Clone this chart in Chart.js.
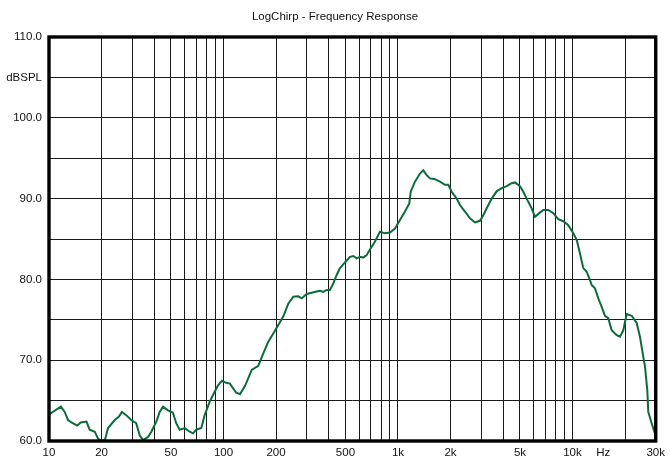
<!DOCTYPE html>
<html>
<head>
<meta charset="utf-8">
<script src="https://cdn.jsdelivr.net/npm/chart.js@4/dist/chart.umd.min.js"></script>
<style>
html,body{margin:0;padding:0;background:#fff;}
#wrap{width:670px;height:461px;}
</style>
</head>
<body>
<div id="wrap"><canvas id="c" width="670" height="461"></canvas></div>
<script>
const chartTitle = 'LogChirp - Frequency Response';

const freqHz = [
  10, 11.7, 12.3, 12.85, 13.7, 14.5, 15.2, 16.4, 17.1, 18.3, 19.1, 19.9, 20.9, 21.8, 23.8, 25.1, 26.2, 27.7, 29.6,
  31.6, 33.1, 34.6, 36.9, 38.6, 41.2, 43.1, 45.0, 48.1, 51.3, 53.6, 56.1, 59.9, 64.0, 66.9, 69.8, 74.6, 78.0,
  83.3, 89.0, 93.0, 98.0, 103.7, 108.9, 117.9, 124.3, 132.8, 145.1, 158.3, 169.1, 180.6, 192.9, 206.1, 220.1,
  235.1, 251.2, 268.4, 280.6, 299.8, 320.2, 342.0, 357.3, 373.2, 390.3, 407.6, 425.8, 445.3, 465.1, 496.9,
  530.8, 554.4, 579.8, 605.6, 632.5, 661.5, 690.9, 738.2, 788.5, 842.3, 899.9, 961.2, 1027, 1097, 1161, 1183,
  1251, 1337, 1396, 1460, 1525, 1629, 1741, 1859, 1942, 2031, 2169, 2266, 2421, 2586, 2763, 2951, 3083, 3224,
  3444, 3678, 3929, 4197, 4484, 4683, 5002, 5225, 5581, 5837, 6097, 6452, 6803, 7265, 7762, 8292, 8859, 9460,
  10106, 10570, 11040, 11530, 12060, 12600, 12880, 13450, 14060, 14700, 15360, 16040, 16770, 17920, 18720,
  19550, 20450, 21840, 23330, 24370, 25260, 26040, 26840, 27190, 28430, 29800
];

const splDb = [
  63.3, 64.25, 63.6, 62.6, 62.2, 61.9, 62.3, 62.4, 61.4, 61.15, 60.3, 60.0, 60.1, 61.6, 62.6, 63.0, 63.6, 63.2, 62.6,
  62.2, 60.7, 60.1, 60.5, 61.15, 62.4, 63.6, 64.25, 63.8, 63.5, 62.2, 61.4, 61.6, 61.15, 60.95, 61.4, 61.6, 63.2,
  64.85, 66.1, 66.9, 67.45, 67.2, 67.1, 66.0, 65.8, 66.8, 68.8, 69.3, 70.85, 72.3, 73.3, 74.35, 75.4,
  77.0, 77.85, 77.9, 77.65, 78.2, 78.35, 78.5, 78.6, 78.45, 78.7, 78.7, 79.5, 80.55, 81.4, 82.1,
  82.8, 82.9, 82.6, 82.8, 82.7, 83.0, 83.7, 84.7, 85.9, 85.7, 85.8, 86.3, 87.35, 88.4, 89.4, 90.85,
  92.1, 93.1, 93.5, 92.9, 92.5, 92.4, 92.1, 91.7, 91.7, 90.85, 90.0, 89.2, 88.4, 87.55, 87.05, 87.25, 87.95, 88.8,
  90.0, 90.9, 91.3, 91.55, 91.9, 92.0, 91.55, 90.85, 89.6, 88.8, 87.75, 88.2, 88.6, 88.6, 88.2, 87.45, 87.2, 86.7,
  85.7, 84.9, 83.2, 81.4, 80.95, 79.9, 79.3, 78.9, 77.65, 76.6, 75.5, 75.2, 73.7, 73.1, 72.9,
  73.7, 75.7, 75.5, 74.6, 72.9, 70.85, 69.2, 66.3, 63.6, 62.2, 60.8
];

const xGridValues = [
  10, 20, 30, 40, 50, 60, 70, 80, 90,
  100, 200, 300, 400, 500, 600, 700, 800, 900,
  1000, 2000, 3000, 4000, 5000, 6000, 7000, 8000, 9000,
  10000, 20000, 30000
];
const xLabelValues = [10, 20, 50, 100, 200, 500, 1000, 2000, 5000, 10000, 15000, 30000];
const xLabelTexts  = ['10', '20', '50', '100', '200', '500', '1k', '2k', '5k', '10k', 'Hz', '30k'];

const yGridValues = [60, 65, 70, 75, 80, 85, 90, 95, 100, 105, 110];
const yLabelValues = [60, 70, 80, 90, 100, 105, 110];
const yLabelTexts  = ['60.0', '70.0', '80.0', '90.0', '100.0', 'dBSPL', '110.0'];

const FONT = '"Liberation Sans", Arial, sans-serif';
const TEXT = '#111';

const framePlugin = {
  id: 'frame',
  afterDatasetsDraw(chart) {
    const a = chart.chartArea, ctx = chart.ctx;
    ctx.save();
    ctx.strokeStyle = '#000';
    ctx.lineWidth = 3.4;
    ctx.strokeRect(a.left, a.top, a.right - a.left, a.bottom - a.top);
    ctx.restore();
  }
};

const xTickSet = Array.from(new Set(xGridValues.concat(xLabelValues))).sort((a, b) => a - b);

new Chart(document.getElementById('c'), {
  type: 'line',
  data: {
    datasets: [{
      data: freqHz.map((f, i) => ({ x: f, y: splDb[i] })),
      borderColor: '#0c6b3c',
      borderWidth: 2,
      pointRadius: 0,
      tension: 0,
      fill: false
    }]
  },
  options: {
    responsive: false,
    animation: false,
    devicePixelRatio: 1,
    layout: { padding: 0 },
    plugins: {
      legend: { display: false },
      tooltip: { enabled: false },
      title: {
        display: true,
        text: chartTitle,
        color: TEXT,
        font: { family: FONT, size: 11.5, weight: 'normal', lineHeight: 1.2 },
        padding: { top: 10, bottom: 13.2 }
      }
    },
    scales: {
      x: {
        type: 'logarithmic',
        min: 10,
        max: 30000,
        afterBuildTicks(scale) { scale.ticks = xTickSet.map(v => ({ value: v })); },
        afterFit(scale) { scale.height = 20; },
        border: { display: false },
        grid: {
          drawTicks: false,
          lineWidth: 1,
          color: (ctx) => (ctx.tick && xGridValues.indexOf(ctx.tick.value) < 0) ? 'rgba(0,0,0,0)' : '#1a1a1a'
        },
        ticks: {
          autoSkip: false,
          maxRotation: 0,
          minRotation: 0,
          padding: 5,
          color: TEXT,
          font: { family: FONT, size: 11.5 },
          callback(value) {
            const i = xLabelValues.indexOf(value);
            return i >= 0 ? xLabelTexts[i] : '';
          }
        }
      },
      y: {
        type: 'linear',
        min: 60,
        max: 110,
        afterBuildTicks(scale) { scale.ticks = yGridValues.map(v => ({ value: v })); },
        afterFit(scale) { scale.width = 49; },
        border: { display: false },
        grid: { drawTicks: false, lineWidth: 1, color: '#1a1a1a' },
        ticks: {
          autoSkip: false,
          padding: 7,
          color: TEXT,
          font: { family: FONT, size: 11.5 },
          callback(value) {
            const i = yLabelValues.indexOf(value);
            return i >= 0 ? yLabelTexts[i] : '';
          }
        }
      },
      yRight: {
        type: 'linear',
        position: 'right',
        min: 60,
        max: 110,
        afterFit(scale) { scale.width = 14; },
        border: { display: false },
        grid: { display: false, drawOnChartArea: false },
        ticks: { display: false }
      }
    }
  },
  plugins: [framePlugin]
});
</script>
</body>
</html>
